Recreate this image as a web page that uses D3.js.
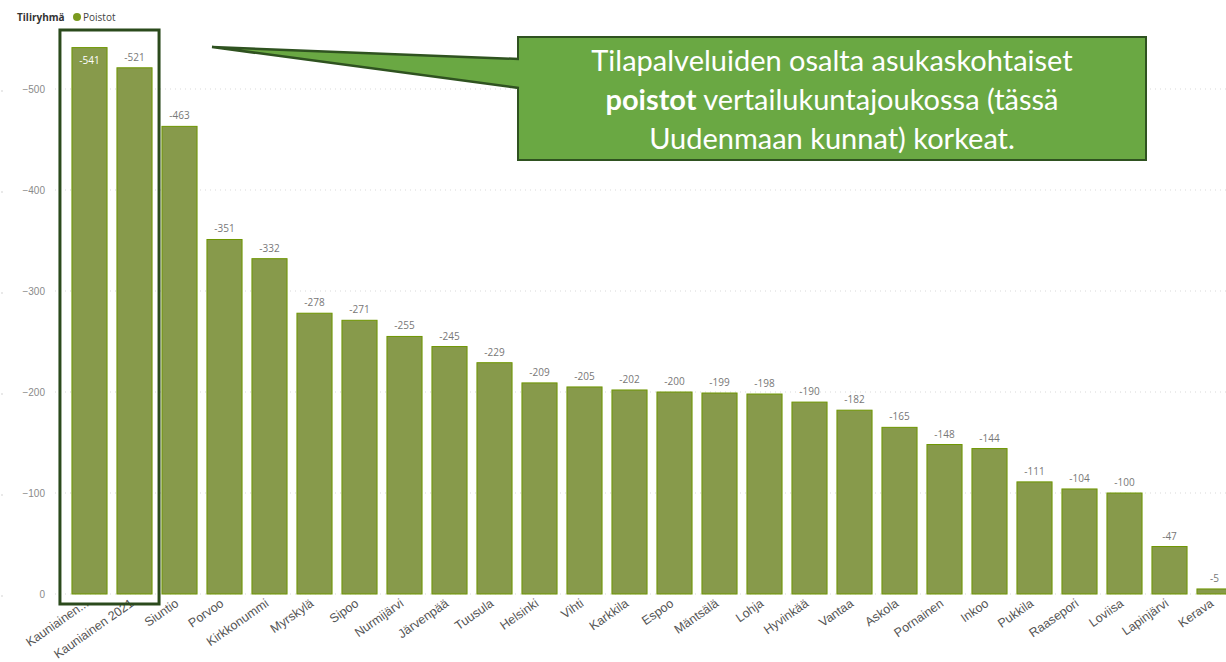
<!DOCTYPE html>
<html>
<head>
<meta charset="utf-8">
<script src="https://cdn.jsdelivr.net/npm/d3@7"></script>
<style>
  body { margin: 0; background: #fff; }
  svg { display: block; font-family: "Open Sans", sans-serif; }
</style>
</head>
<body>
<div id="chart"></div>
<script>
// Chart data
var kunnat = ["Kauniainen...", "Kauniainen 2021", "Siuntio", "Porvoo", "Kirkkonummi", "Myrskylä",
  "Sipoo", "Nurmijärvi", "Järvenpää", "Tuusula", "Helsinki", "Vihti", "Karkkila", "Espoo",
  "Mäntsälä", "Lohja", "Hyvinkää", "Vantaa", "Askola", "Pornainen", "Inkoo", "Pukkila",
  "Raasepori", "Loviisa", "Lapinjärvi", "Kerava"];
var poistot = [-541, -521, -463, -351, -332, -278, -271, -255, -245, -229, -209, -205, -202,
  -200, -199, -198, -190, -182, -165, -148, -144, -111, -104, -100, -47, -5];
var yTicks = [0, -100, -200, -300, -400, -500];
var calloutLines = [
  [{t: "Tilapalveluiden osalta asukaskohtaiset", b: false}],
  [{t: "poistot", b: true}, {t: " vertailukuntajoukossa (tässä", b: false}],
  [{t: "Uudenmaan kunnat) korkeat.", b: false}]
];

var svgWidth = 1226;
var svgHeight = 662;

var svg = d3.select("#chart")
  .append("svg")
  .attr("width", svgWidth)
  .attr("height", svgHeight);

// scales
var x = d3.scaleBand()
  .domain(kunnat)
  .range([67, 67 + 45 * kunnat.length])
  .paddingInner(0.22)
  .paddingOuter(0.11);

var y = d3.scaleLinear()
  .domain([0, -500])
  .range([594, 89]);

// gridlines (dotted)
svg.append("g")
  .selectAll("line")
  .data(yTicks)
  .enter()
  .append("line")
  .attr("x1", 55)
  .attr("x2", svgWidth)
  .attr("y1", d => y(d))
  .attr("y2", d => y(d))
  .attr("stroke", "#d9d9d9")
  .attr("stroke-width", 1)
  .attr("stroke-dasharray", "1,4");

// little dots at far left
svg.append("g")
  .selectAll("circle")
  .data(yTicks)
  .enter()
  .append("circle")
  .attr("cx", 2)
  .attr("cy", d => y(d) + 2)
  .attr("r", 0.8)
  .attr("fill", "#ccc");

// y axis
var leftAxis = d3.axisLeft(y)
  .tickValues(yTicks)
  .tickSize(0)
  .tickPadding(0)
  .tickFormat(d3.format("d"));

var yAxis = svg.append("g")
  .attr("transform", "translate(45,0)")
  .call(leftAxis);
yAxis.select(".domain").remove();
yAxis.selectAll("text")
  .attr("fill", "#8a8a8a")
  .style("font-size", "10px");

// bars
svg.append("g")
  .selectAll("rect")
  .data(poistot)
  .enter()
  .append("rect")
  .attr("x", (d, i) => x(kunnat[i]))
  .attr("y", d => y(d))
  .attr("width", x.bandwidth())
  .attr("height", d => y(0) - y(d))
  .attr("fill", "#879a4b")
  .attr("stroke", "#6e9600")
  .attr("stroke-width", 1);

// value labels
svg.append("g")
  .selectAll("text")
  .data(poistot)
  .enter()
  .append("text")
  .attr("x", (d, i) => x(kunnat[i]) + x.bandwidth() / 2)
  .attr("y", (d, i) => i === 0 ? y(d) + 16 : y(d) - 7)
  .attr("text-anchor", "middle")
  .attr("fill", (d, i) => i === 0 ? "#ffffff" : "#777777")
  .style("font-size", "10px")
  .text(d => d);

// x axis labels
var bottomAxis = d3.axisBottom(x)
  .tickSize(0)
  .tickPadding(0);

var xAxis = svg.append("g")
  .attr("transform", "translate(0,597)")
  .call(bottomAxis);
xAxis.select(".domain").remove();
xAxis.selectAll("text")
  .attr("fill", "#555555")
  .style("font-size", "12.5px")
  .attr("text-anchor", "end")
  .attr("dy", "0.7em")
  .attr("transform", "translate(-5,1) rotate(-35)");

// legend
svg.append("text")
  .attr("x", 17)
  .attr("y", 21)
  .attr("fill", "#333")
  .style("font-size", "10px")
  .style("font-weight", "bold")
  .text("Tiliryhmä");
svg.append("circle")
  .attr("cx", 77)
  .attr("cy", 17)
  .attr("r", 4)
  .attr("fill", "#7a9a1e");
svg.append("text")
  .attr("x", 83)
  .attr("y", 21)
  .attr("fill", "#444")
  .style("font-size", "10px")
  .text("Poistot");

// highlight box round Kauniainen bars
svg.append("rect")
  .attr("x", x(kunnat[0]) - 12)
  .attr("y", 30)
  .attr("width", x(kunnat[1]) + x.bandwidth() + 7 - (x(kunnat[0]) - 12))
  .attr("height", 574)
  .attr("fill", "none")
  .attr("stroke", "#2b4a1c")
  .attr("stroke-width", 3);

// callout
var callout = svg.append("g");
callout.append("rect")
  .attr("x", 518)
  .attr("y", 37)
  .attr("width", 628)
  .attr("height", 123)
  .attr("fill", "#6aa843")
  .attr("stroke", "#2f5220")
  .attr("stroke-width", 2);
callout.append("path")
  .attr("d", "M519,59 L212,47 L519,88")
  .attr("fill", "#6aa843")
  .attr("stroke", "#2f5220")
  .attr("stroke-width", 2.5);

var ct = callout.append("text")
  .attr("text-anchor", "middle")
  .attr("fill", "#ffffff")
  .style("font-family", "Lato, sans-serif")
  .style("font-size", "29px");
calloutLines.forEach(function(line, i) {
  var tl = ct.append("tspan")
    .attr("x", 832)
    .attr("y", 71 + i * 39);
  line.forEach(function(part) {
    tl.append("tspan")
      .style("font-weight", part.b ? "bold" : "normal")
      .text(part.t);
  });
});
</script>
</body>
</html>
